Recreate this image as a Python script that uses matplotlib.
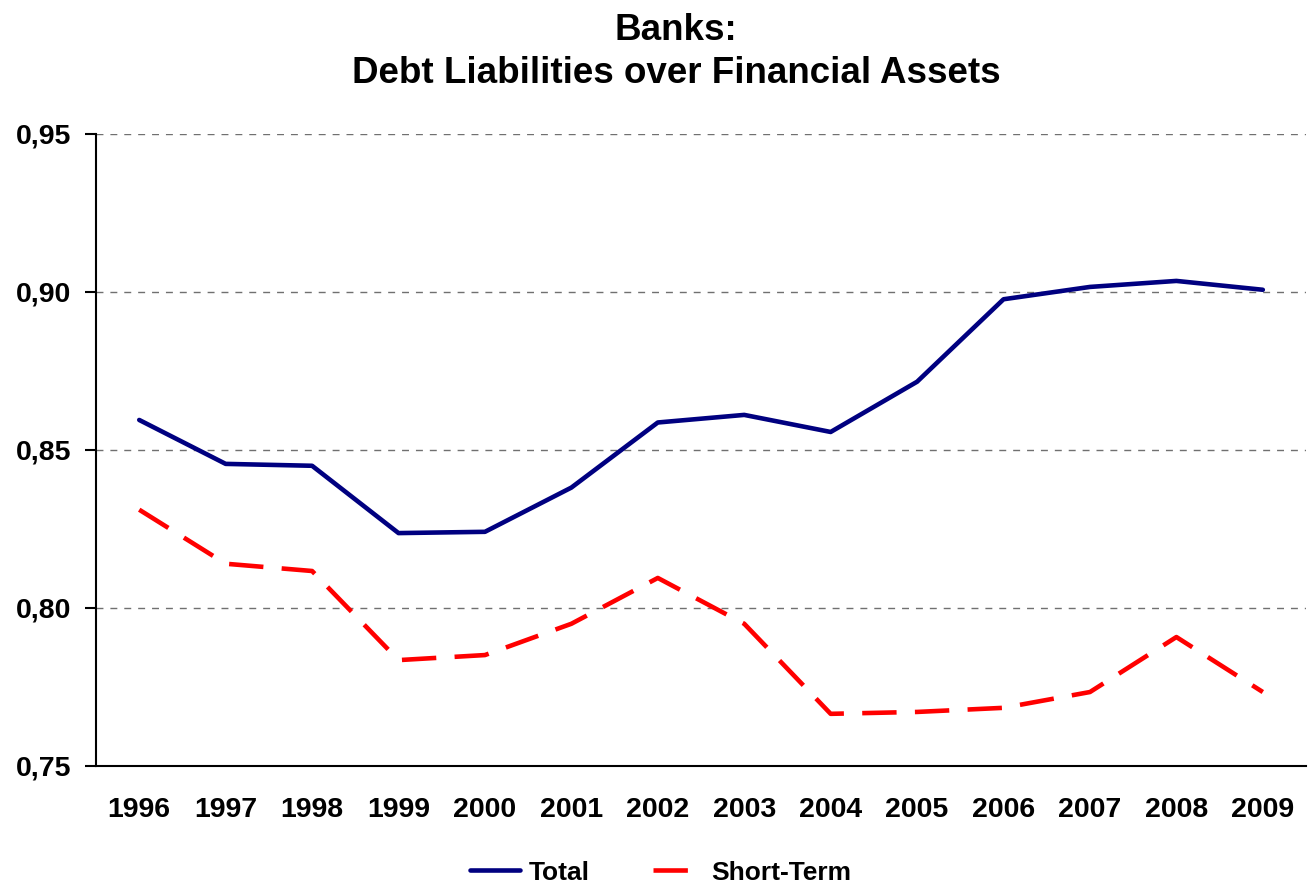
import matplotlib.pyplot as plt

plt.rcParams['font.family'] = ['Liberation Sans', 'DejaVu Sans']
plt.rcParams['font.weight'] = 'bold'

years = ['1996', '1997', '1998', '1999', '2000', '2001', '2002',
         '2003', '2004', '2005', '2006', '2007', '2008', '2009']
total = [0.8595, 0.8456, 0.8450, 0.8237, 0.8241, 0.8381, 0.8587,
         0.8611, 0.8557, 0.8716, 0.8977, 0.9016, 0.9035, 0.9007]
short_term = [0.8311, 0.8140, 0.8117, 0.7835, 0.7851, 0.7950, 0.8095,
              0.7950, 0.7665, 0.7671, 0.7684, 0.7734, 0.7908, 0.7734]
y_ticks = [0.75, 0.80, 0.85, 0.90, 0.95]

fig = plt.figure(figsize=(13.08, 8.85), dpi=100)
ax = fig.add_axes([0.0734, 0.1345, 0.9251, 0.7141])

x = list(range(len(years)))
ax.plot(x, total, color='#000080', lw=3.3, label='Total', solid_capstyle='round', zorder=3)
ax.plot(x, short_term, color='#ff0000', lw=3.3, dashes=(7.5, 4), label='Short-Term', zorder=3)

ax.set_xlim(-0.5, len(years) - 0.5)
ax.set_ylim(0.75, 0.95)
ax.set_yticks(y_ticks)
ax.set_yticklabels([f'{v:.2f}'.replace('.', ',') for v in y_ticks])
ax.set_xticks(x)
ax.set_xticklabels(years)

ax.tick_params(axis='y', direction='out', length=8, width=1.5, labelsize=20.5, pad=10)
ax.tick_params(axis='x', length=0, labelsize=20.5, pad=22)
for lab in ax.get_xticklabels() + ax.get_yticklabels():
    lab.set_fontweight('bold')

for v in y_ticks[1:]:
    ax.axhline(v, color='#707070', lw=1, dashes=(5, 5), zorder=1)

ax.spines['top'].set_visible(False)
ax.spines['right'].set_visible(False)
ax.spines['left'].set_linewidth(1.5)
ax.spines['bottom'].set_linewidth(1.5)

fig.text(0.517, 0.966, 'Banks:', ha='center', va='center', fontsize=26.5, fontweight='bold')
fig.text(0.517, 0.917, 'Debt Liabilities over Financial Assets', ha='center', va='center',
         fontsize=26.5, fontweight='bold')

fig.legend(loc='center', bbox_to_anchor=(0.505, 0.014), ncol=2, frameon=False,
           handlelength=1.9, handletextpad=0.3, columnspacing=2.4,
           prop={'weight': 'bold', 'size': 19})

fig.savefig('out.png', dpi=100)
